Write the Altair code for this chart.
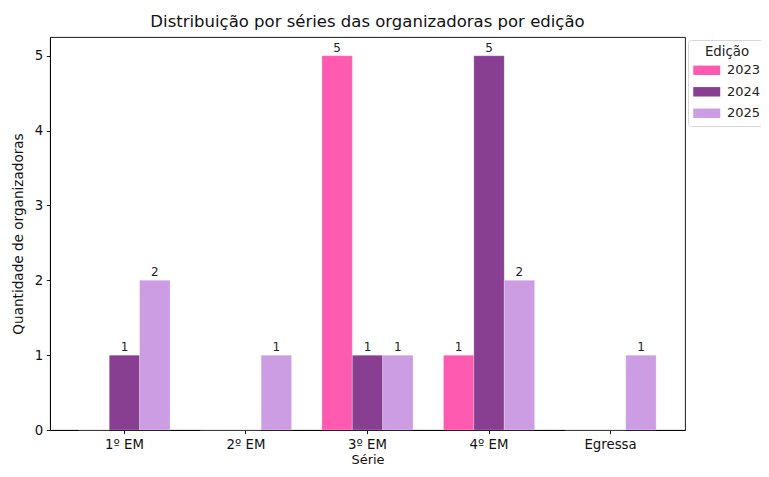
import altair as alt
import pandas as pd

series = ["1º EM", "2º EM", "3º EM", "4º EM", "Egressa"]
years = ["2023", "2024", "2025"]
v2023 = [0, 0, 5, 1, 0]
v2024 = [1, 0, 1, 5, 0]
v2025 = [2, 1, 1, 2, 1]
colors = ["#fe5bb0", "#883f92", "#cc9de2"]
y_ticks = [0, 1, 2, 3, 4, 5]

rows = []
for yr, vals in zip(years, [v2023, v2024, v2025]):
    for s, v in zip(series, vals):
        rows.append({"Série": s, "Edição": yr, "Quantidade": v})
df = pd.DataFrame(rows)

FONT = "DejaVu Sans"

x_enc = alt.X("Série:N", sort=series,
              scale=alt.Scale(paddingInner=0.25, paddingOuter=0.2375),
              axis=alt.Axis(title="Série", labelAngle=0, titlePadding=3,
                            titleFontSize=13))
xoff = alt.XOffset("Edição:N", sort=years,
                   scale=alt.Scale(paddingInner=0, paddingOuter=0))
y_enc = alt.Y("Quantidade:Q", scale=alt.Scale(domain=[0, 5.25], nice=False),
              axis=alt.Axis(title="Quantidade de organizadoras", values=y_ticks,
                            format="d", titlePadding=9))

bars = alt.Chart(df).mark_bar(stroke="white", strokeWidth=0.4, strokeOpacity=0.6).encode(
    x=x_enc,
    xOffset=xoff,
    y=y_enc,
    color=alt.Color("Edição:N", sort=years,
                    scale=alt.Scale(domain=years, range=colors),
                    legend=alt.Legend(
                        title="Edição", orient="none", legendX=638, legendY=3,
                        titleAnchor="middle", titleFontSize=13.3, titleFontWeight="normal",
                        titleColor="#222", titlePadding=5,
                        labelFontSize=13, labelColor="#222",
                        symbolType="M-1,-0.7H3V0.7H-1Z", symbolSize=182,
                        symbolStrokeWidth=0, labelOffset=20, rowPadding=7.5,
                        fillColor="white", strokeColor="#d6d6d6", cornerRadius=3,
                        padding=5)),
)

labels = alt.Chart(df).transform_filter("datum.Quantidade > 0").mark_text(
    baseline="bottom", dy=-1, fontSize=12, color="#222", font=FONT
).encode(
    x=alt.X("Série:N", sort=series),
    xOffset=alt.XOffset("Edição:N", sort=years),
    y="Quantidade:Q",
    text="Quantidade:Q",
)

chart = alt.layer(bars, labels).properties(
    width=635,
    height=393,
    title=alt.TitleParams("Distribuição por séries das organizadoras por edição",
                          fontSize=16.5, font=FONT, fontWeight="normal",
                          color="#111", anchor="middle", offset=7),
    autosize=alt.AutoSizeParams(type="none"),
    padding={"left": 42, "top": 29, "right": 76, "bottom": 39},
).configure(font=FONT).configure_view(
    stroke="black", strokeWidth=0.9
).configure_axis(
    domainColor="black", domainWidth=0.9, tickColor="black", tickWidth=0.9,
    tickSize=3.7, labelFontSize=13.3, labelColor="#111", labelPadding=3.5,
    titleFontSize=13.6, titleFontWeight="normal", titleColor="#111",
    grid=False, labelFont=FONT, titleFont=FONT,
)

chart.save("out.html", embed_options={"renderer": "svg", "actions": False})
